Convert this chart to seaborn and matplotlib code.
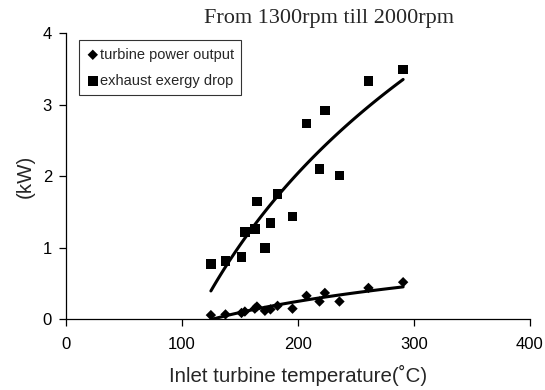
import matplotlib
matplotlib.use("Agg")
import matplotlib.pyplot as plt
import seaborn as sns
import pandas as pd

# Inlet turbine temperature (°C) for each measurement, 1300-2000 rpm
inlet_temp = [125.0, 137.6, 151.4, 154.3, 162.9, 164.7, 171.6, 176.4,
              182.5, 195.4, 207.5, 218.7, 223.3, 235.9, 260.9, 290.8]
# Turbine power output (kW)
turbine_power = [0.06, 0.07, 0.09, 0.11, 0.15, 0.18, 0.12, 0.14,
                 0.19, 0.15, 0.33, 0.25, 0.37, 0.25, 0.44, 0.52]
# Exhaust exergy drop (kW)
exergy_drop = [0.77, 0.82, 0.87, 1.22, 1.26, 1.65, 1.00, 1.35,
               1.75, 1.44, 2.74, 2.10, 2.92, 2.01, 3.33, 3.49]

x_ticks = [0, 100, 200, 300, 400]
y_ticks = [0, 1, 2, 3, 4]

df = pd.DataFrame({"temp": inlet_temp, "power": turbine_power, "exergy": exergy_drop})

sns.set_theme(style="ticks")
plt.rcParams["font.family"] = ["Liberation Sans", "DejaVu Sans"]

fig = plt.figure(figsize=(5.45, 3.90), dpi=100)
ax = fig.add_axes([0.121, 0.181, 0.851, 0.734])

# measured points
sns.scatterplot(data=df, x="temp", y="power", marker="D", s=28, color="black",
                edgecolor="none", ax=ax, label="turbine power output")
sns.scatterplot(data=df, x="temp", y="exergy", marker="s", s=48, color="black",
                edgecolor="none", ax=ax, label="exhaust exergy drop")

# logarithmic trend lines
sns.regplot(data=df, x="temp", y="power", logx=True, scatter=False, ci=None,
            color="black", line_kws={"lw": 2.2}, ax=ax, truncate=True)
sns.regplot(data=df, x="temp", y="exergy", logx=True, scatter=False, ci=None,
            color="black", line_kws={"lw": 2.2}, ax=ax, truncate=True)

ax.set_xlim(0, 400)
ax.set_ylim(0, 4)
ax.set_xticks(x_ticks)
ax.set_yticks(y_ticks)
ax.tick_params(axis="both", direction="out", length=5, width=0.9, colors="black",
               labelsize=12)
ax.tick_params(axis="x", pad=8)
ax.tick_params(axis="y", pad=5)
for side in ("top", "right"):
    ax.spines[side].set_visible(False)
for side in ("left", "bottom"):
    ax.spines[side].set_color("black")
    ax.spines[side].set_linewidth(0.9)

ax.set_xlabel("Inlet turbine temperature(˚C)", fontsize=14.8, labelpad=9)
ax.set_ylabel("(kW)", fontsize=14.8, labelpad=6)

leg = ax.legend(loc="upper left", bbox_to_anchor=(0.028, 0.975), frameon=True,
                fancybox=False, fontsize=10.5, handletextpad=0.05, handlelength=0.9,
                borderpad=0.5, labelspacing=0.85, borderaxespad=0)
leg.get_frame().set_edgecolor("black")
leg.get_frame().set_linewidth(0.8)

fig.text(329 / 545, 1 - 18 / 390, "From 1300rpm till 2000rpm", ha="center",
         va="center", fontsize=16, family=["Liberation Serif", "DejaVu Serif"])

fig.savefig("out.png", dpi=100)
